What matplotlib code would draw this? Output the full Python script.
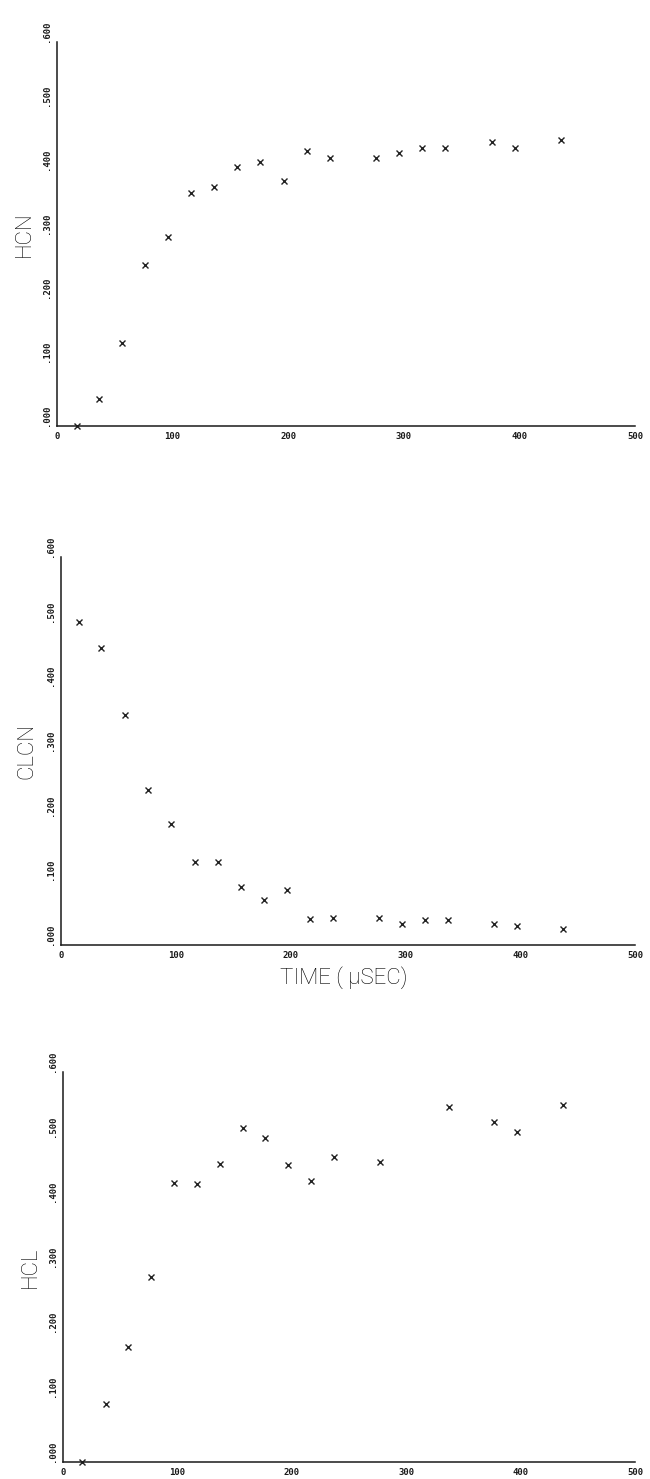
import matplotlib
matplotlib.use("Agg")
import matplotlib.pyplot as plt

# sample times in microseconds
time_us = [17, 36, 56, 76, 96, 116, 136, 156, 176, 196, 216, 236, 276, 296, 316, 336, 376, 396, 436]
hcn = [0.0, 0.042, 0.130, 0.252, 0.295, 0.364, 0.374, 0.404, 0.413, 0.383, 0.430, 0.419,
       0.418, 0.427, 0.435, 0.435, 0.443, 0.435, 0.447]
clcn_time = [16, 35, 56, 76, 96, 117, 137, 157, 177, 197, 217, 237, 277, 297, 317, 337, 377, 397, 437]
clcn = [0.500, 0.459, 0.355, 0.239, 0.187, 0.129, 0.128, 0.090, 0.070, 0.085, 0.040, 0.041,
        0.041, 0.033, 0.039, 0.039, 0.033, 0.029, 0.025]
hcl_time = [17, 38, 57, 77, 97, 117, 137, 157, 177, 197, 217, 237, 277, 337, 377, 397, 437]
hcl = [0.0, 0.089, 0.177, 0.284, 0.430, 0.428, 0.459, 0.514, 0.499, 0.457, 0.432, 0.470,
       0.461, 0.546, 0.523, 0.507, 0.549]

y_ticks = [0.0, 0.1, 0.2, 0.3, 0.4, 0.5, 0.6]
y_tick_labels = ['.000', '.100', '.200', '.300', '.400', '.500', '.600']
x_ticks = [0, 100, 200, 300, 400, 500]
x_tick_labels = ['0', '100', '200', '300', '400', '500']

W, H = 650, 1479
fig = plt.figure(figsize=(W / 100, H / 100), dpi=100)
fig.patch.set_facecolor('white')

label_font = dict(family=['Roboto', 'DejaVu Sans'], fontweight='light', fontsize=16, color='#000000')
tick_font = dict(family=['DejaVu Sans Mono'], fontweight='bold', fontsize=6.5, color='#1a1a1a')


def pixel_axes(left, top, right, bottom):
    return fig.add_axes([left / W, 1 - bottom / H, (right - left) / W, (bottom - top) / H])


panels = [
    (pixel_axes(57, 42, 635, 426), time_us, hcn, 'HCN', 24),
    (pixel_axes(61, 557, 635, 945), clcn_time, clcn, 'CLCN', 27),
    (pixel_axes(63, 1072, 635, 1462), hcl_time, hcl, 'HCL', 30),
]

for ax, t, vals, name, label_x in panels:
    ax.plot(t, vals, linestyle='none', marker='x', markersize=4.5,
            markeredgewidth=1.0, color='#222222', clip_on=False)
    ax.set_xlim(0, 500)
    ax.set_ylim(0, 0.6)
    for side in ['top', 'right']:
        ax.spines[side].set_visible(False)
    for side in ['left', 'bottom']:
        ax.spines[side].set_linewidth(1.1)
        ax.spines[side].set_color('#1a1a1a')
    ax.set_yticks(y_ticks, y_tick_labels, rotation=90, va='bottom', ha='right', **tick_font)
    ax.set_xticks(x_ticks, x_tick_labels, **tick_font)
    ax.tick_params(axis='y', length=0, pad=4)
    ax.tick_params(axis='x', length=0, pad=4)
    ax.set_facecolor('white')
    # y axis name, centred on the panel
    pos = ax.get_position()
    fig.text(label_x / W, pos.y0 + pos.height / 2, name, rotation=90,
             ha='center', va='center', **label_font)

# shared time label under the middle panel
fig.text(344 / W, 1 - 978 / H, 'TIME ( \u00b5SEC)', ha='center', va='center', **label_font)

fig.savefig('out.png', dpi=100, facecolor='white')
